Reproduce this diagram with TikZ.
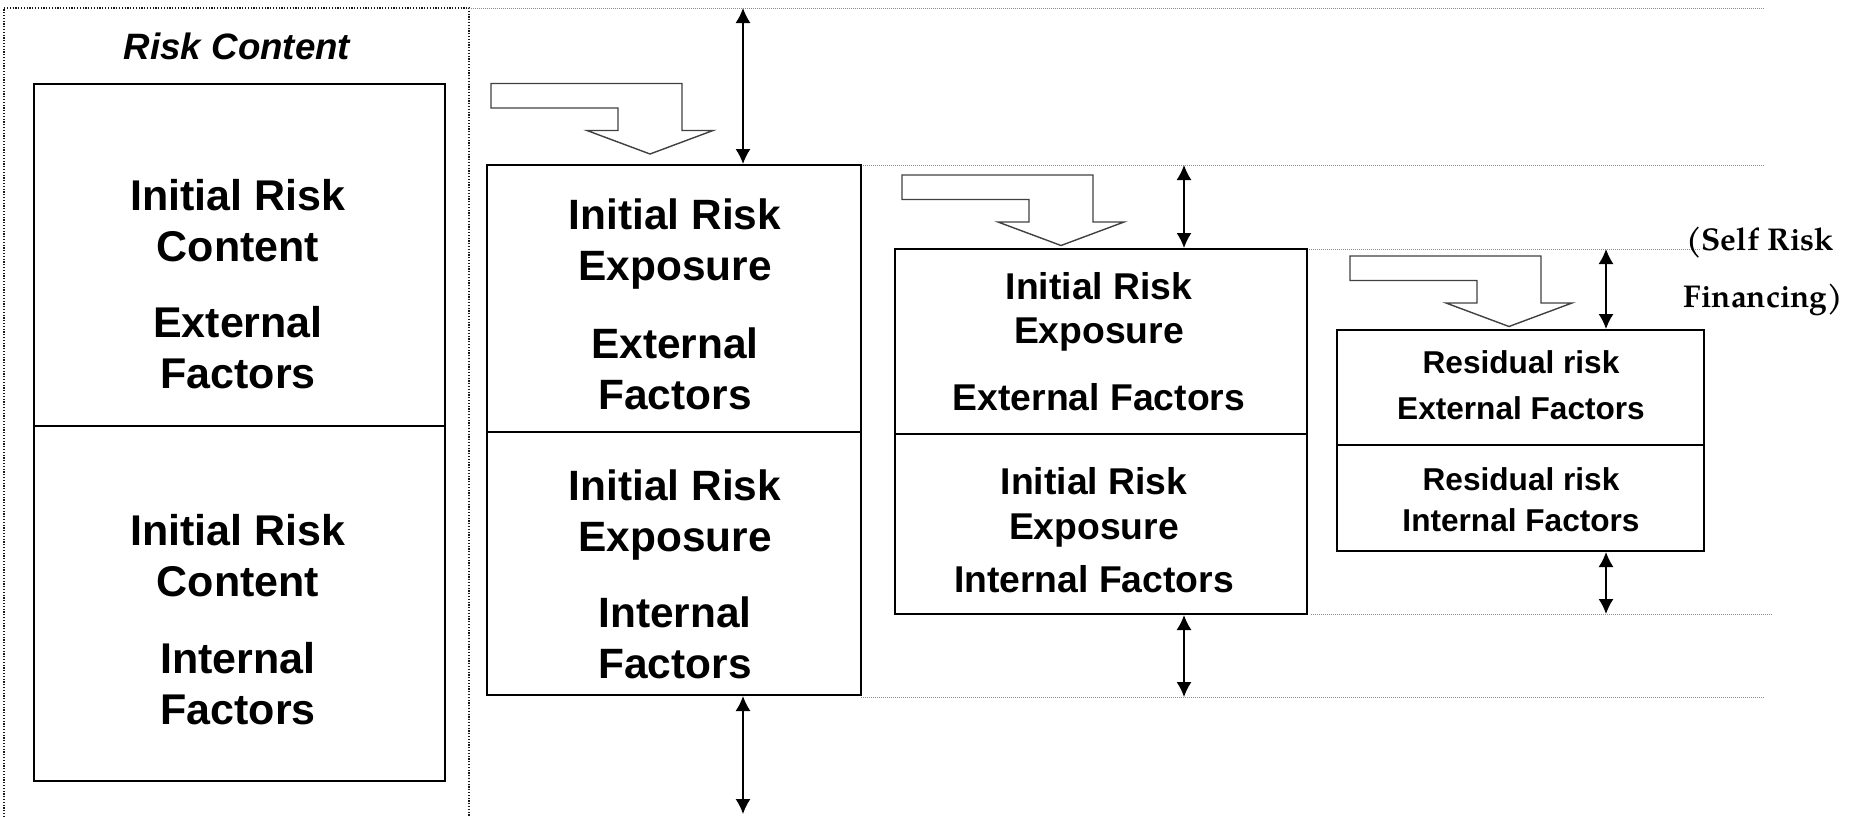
\documentclass[tikz,border=0pt]{standalone}
\usepackage{fontspec}
\setmainfont{Liberation Sans}
\newfontfamily\notefont{TeX Gyre Pagella}
\usetikzlibrary{arrows.meta}

\tikzset{
  halfbox/.style 2 args={draw=black, line width=2pt, inner sep=0pt,
    minimum width=#1pt, minimum height=#2pt},
  boxtext/.style={align=center, inner sep=0pt, font=\bfseries},
  dbl/.style={{Latex[length=15pt,width=15pt]}-{Latex[length=15pt,width=15pt]}, line width=1.5pt},
  guide/.style={draw=black!45, line width=0.8pt, dash pattern=on 1pt off 1pt},
  frame/.style={draw=black!90, line width=1.3pt, dash pattern=on 1.2pt off 1.6pt},
  notetext/.style={inner sep=0pt, font=\notefont\fontsize{31.5}{36}\selectfont\bfseries},
  blockarrow/.pic={
    \draw[line width=1.4pt, draw=black!75, line join=miter]
      (0,0) -- (63,-23.5) -- (32,-23.5) -- (32,-70.5) -- (-159,-70.5)
      -- (-159,-46) -- (-32,-46) -- (-32,-23.5) -- (-63,-23.5) -- cycle;
  }
}

\begin{document}
\begin{tikzpicture}[x=1pt,y=-1pt]
\useasboundingbox (0,0) rectangle (1849,817);

% dotted frame around the risk content column
\draw[frame] (4,817) -- (4,8) -- (469,8) -- (469,817);

% level guides
\coordinate (g0a) at (469,8);    \coordinate (g0b) at (1765,8);
\coordinate (g1a) at (861,165);  \coordinate (g1b) at (1765,165);
\coordinate (g2a) at (1307,249); \coordinate (g2b) at (1700,249);
\coordinate (g3a) at (1311,614); \coordinate (g3b) at (1772,614);
\coordinate (g4a) at (861,697);  \coordinate (g4b) at (1765,697);
\draw[guide] (g0a) -- (g0b);
\draw[guide] (g1a) -- (g1b);
\draw[guide] (g2a) -- (g2b);
\draw[guide] (g3a) -- (g3b);
\draw[guide] (g4a) -- (g4b);

% risk content column
\node[font=\fontsize{36.7}{44}\selectfont\bfseries\itshape] (title) at (237,46) {Risk Content};
\node[halfbox={411}{342}] (c1) at (239.5,255) {};
\node[halfbox={411}{355}] (c2) at (239.5,603.5) {};
\node[boxtext, font=\fontsize{43}{51}\selectfont\bfseries] (c1t) at (238,284.5)
  {Initial Risk\\Content\\[25pt]External\\Factors};
\node[boxtext, font=\fontsize{43}{51}\selectfont\bfseries] (c2t) at (238,620)
  {Initial Risk\\Content\\[26pt]Internal\\Factors};

% first exposure column
\node[halfbox={374}{267}] (e1) at (674,298.5) {};
\node[halfbox={374}{263}] (e2) at (674,563.5) {};
\node[boxtext, font=\fontsize{42.4}{51}\selectfont\bfseries] (e1t) at (675,304.5)
  {Initial Risk\\Exposure\\[27pt]External\\Factors};
\node[boxtext, font=\fontsize{42.4}{51}\selectfont\bfseries] (e2t) at (675,574.5)
  {Initial Risk\\Exposure\\[25pt]Internal\\Factors};

% second exposure column
\node[halfbox={412}{185}] (f1) at (1101,341.5) {};
\node[halfbox={412}{180}] (f2) at (1101,524) {};
\node[boxtext, font=\fontsize{37.3}{44}\selectfont\bfseries] (f1t) at (1099,342)
  {Initial Risk\\Exposure\\[23pt]External Factors};
\node[boxtext, font=\fontsize{37.3}{45}\selectfont\bfseries] (f2t) at (1094,530)
  {Initial Risk\\Exposure\\[8pt]Internal Factors};

% residual column
\node[halfbox={367}{115}] (r1) at (1520.5,387.5) {};
\node[halfbox={367}{106}] (r2) at (1520.5,498) {};
\node[boxtext, font=\fontsize{31.6}{46}\selectfont\bfseries] (r1t) at (1521,385)
  {Residual risk\\External Factors};
\node[boxtext, font=\fontsize{31.6}{41}\selectfont\bfseries] (r2t) at (1521,499.5)
  {Residual risk\\Internal Factors};

% side note
\node[notetext, anchor=base west] (n1) at (1686,250) {(Self Risk};
\node[notetext, anchor=base east] (n2) at (1843,307) {Financing)};

% transfer arrows
\pic at ([yshift=10pt]e1.north -| 650,0) {blockarrow};
\pic at ([yshift=2.5pt]f1.north -| 1061,0) {blockarrow};
\pic at ([yshift=2.5pt]r1.north -| 1509,0) {blockarrow};

% level spans
\coordinate (s1) at (743,8);
\coordinate (s2) at (743,814);
\draw[dbl] (s1) -- (s1 |- e1.north);
\draw[dbl] (s1 |- e2.south) -- (s2);
\coordinate (t1) at (1184,0);
\draw[dbl] (t1 |- g1a) -- (t1 |- f1.north);
\draw[dbl] (t1 |- f2.south) -- (t1 |- g4a);
\coordinate (u1) at (1606,0);
\draw[dbl] (u1 |- g2a) -- (u1 |- r1.north);
\draw[dbl] (u1 |- r2.south) -- (u1 |- g3a);
\end{tikzpicture}
\end{document}
